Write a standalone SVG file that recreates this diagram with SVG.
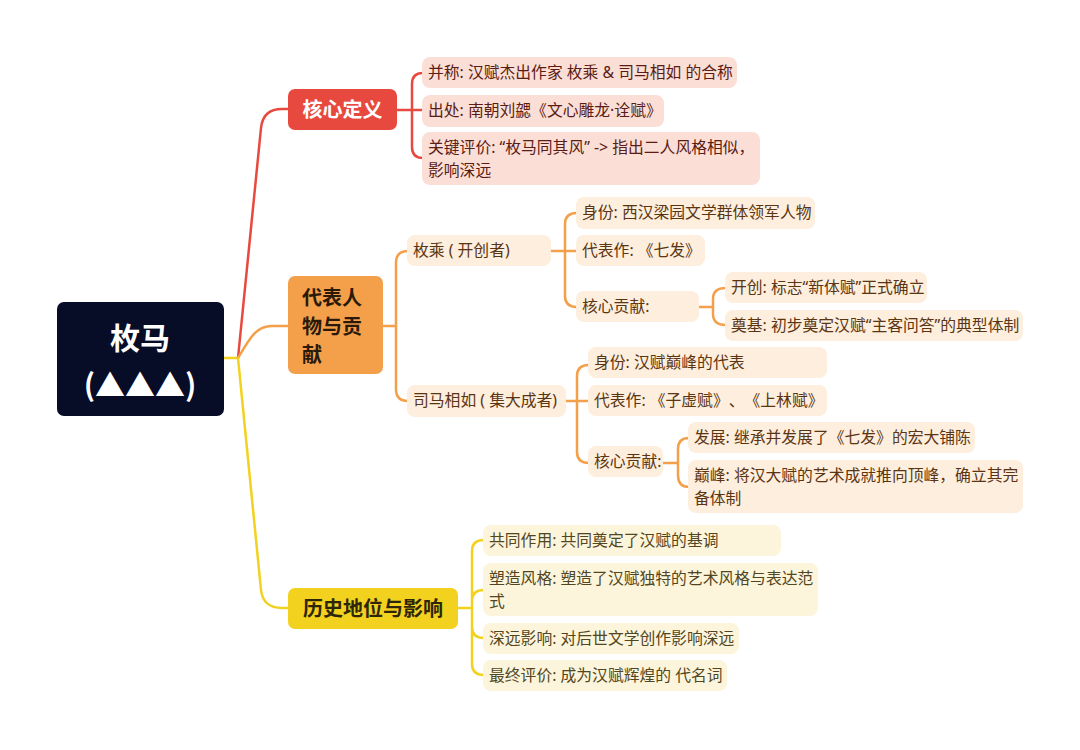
<svg xmlns="http://www.w3.org/2000/svg" width="1080" height="750" viewBox="0 0 1080 750">
<style>
text{font-family:"Noto Sans","Noto Sans CJK SC",sans-serif;font-kerning:none;text-spacing-trim:space-all;}
.c{fill:none;stroke-width:2.5;stroke-linecap:round;stroke-linejoin:round;}
.cr{stroke:#e8493f;} .co{stroke:#f4a04b;} .cy{stroke:#f2d11f;}
.tm{font-size:20px;font-weight:bold;font-family:"Noto Sans CJK SC",sans-serif;}
.t{font-size:15.8px;}
.rb{fill:#fbdfd6;} .ob{fill:#fdeedd;} .yb{fill:#fcf5db;}
.rt{fill:#5a1c14;} .ot{fill:#5b3512;} .yt{fill:#524622;}
</style>
<rect width="1080" height="750" fill="#ffffff"/>
<g id="connectors">
<path class="c cy" d="M224,358 L238,358"/>
<path class="c cr" d="M238,358 L261,128 Q263,109 282,109 L288,109"/>
<path class="c co" d="M238,358 C250,338 256,326 272,326 L288,326"/>
<path class="c cy" d="M238,358 L261,590 Q263,608 282,608 L288,608"/>
<path class="c cr" d="M397,110 L412,110 M412,110 L412,84 Q412,73 423,73 M412,110 L423,110 M412,110 L412,147 Q412,158 423,158"/>
<path class="c co" d="M383,326 L396,326 M396,326 L396,263 Q396,251 408,251 M396,326 L396,389 Q396,401 408,401"/>
<path class="c co" d="M551,251 L565,251 M565,251 L565,224 Q565,213 577,213 M565,251 L577,251 M565,251 L565,296 Q565,307 577,307"/>
<path class="c co" d="M699,307 L713,307 M713,307 L713,299 Q713,288 726,288 M713,307 L713,314 Q713,325 726,325"/>
<path class="c co" d="M566,401 L577,401 M577,401 L577,376 Q577,365 589,365 M577,401 L589,401 M577,401 L577,452 Q577,463 589,463"/>
<path class="c co" d="M663,463 L678,463 M678,463 L678,449 Q678,438 689,438 M678,463 L678,475 Q678,487 689,487"/>
<path class="c cy" d="M457,608 L472,608 M472,608 L472,551 Q472,540 484,540 M472,608 L472,601 Q472,590 484,590 M472,608 L472,627 Q472,638 484,638 M472,608 L472,664 Q472,675 484,675"/>
</g>
<g id="root">
<rect x="57" y="302" width="167" height="114" rx="7" fill="#070c27"/>
<text x="140" y="349" text-anchor="middle" font-size="30" font-weight="bold" fill="#ffffff" style="font-family:'Noto Sans CJK SC',sans-serif">枚马</text>
<text x="140" y="396" text-anchor="middle" font-size="30" font-weight="bold" fill="#ffffff" style="font-family:'Noto Sans CJK SC',sans-serif">(▲▲▲)</text>
</g>
<g id="topic-core">
<rect x="288" y="89" width="109" height="41" rx="7" fill="#e8493f"/>
<text x="342.500" y="117" text-anchor="middle" class="tm" fill="#ffffff">核心定义</text>
</g>
<g id="topic-people">
<rect x="288" y="276" width="95" height="98" rx="7" fill="#f4a04b"/>
<text class="tm" fill="#2b1a0a"><tspan x="302" y="305">代表人</tspan><tspan x="302" y="334">物与贡</tspan><tspan x="302" y="362">献</tspan></text>
</g>
<g id="topic-history">
<rect x="288" y="588" width="170" height="41" rx="7" fill="#f2d11f"/>
<text x="373" y="616" text-anchor="middle" class="tm" fill="#2e2608">历史地位与影响</text>
</g>
<g id="r1"><rect class="rb" x="422" y="57" width="315" height="31" rx="8"/><text class="t rt" x="428" y="78">并称: 汉赋杰出作家 枚乘 &amp; 司马相如 的合称</text></g>
<g id="r2"><rect class="rb" x="422" y="95" width="242" height="32" rx="8"/><text class="t rt" x="428" y="116">出处: 南朝刘勰《文心雕龙·诠赋》</text></g>
<g id="r3"><rect class="rb" x="422" y="132" width="338" height="53" rx="8"/><text class="t rt"><tspan x="428" y="153">关键评价: “枚马同其风” -&gt; 指出二人风格相似，</tspan><tspan x="428" y="176">影响深远</tspan></text></g>
<g id="meicheng"><rect class="ob" x="407" y="235" width="144" height="31" rx="8"/><text class="t ot" x="413" y="256">枚乘 ( 开创者)</text></g>
<g id="sima"><rect class="ob" x="407" y="385" width="159" height="32" rx="8"/><text class="t ot" x="413" y="406">司马相如 ( 集大成者)</text></g>
<g id="m1"><rect class="ob" x="576" y="197" width="239" height="32" rx="8"/><text class="t ot" x="582" y="218">身份: 西汉梁园文学群体领军人物</text></g>
<g id="m2"><rect class="ob" x="576" y="235" width="129" height="31" rx="8"/><text class="t ot" x="582" y="256">代表作: 《七发》</text></g>
<g id="m3"><rect class="ob" x="576" y="291" width="123" height="31" rx="8"/><text class="t ot" x="582" y="312">核心贡献:</text></g>
<g id="m3a"><rect class="ob" x="725" y="272" width="202" height="31" rx="8"/><text class="t ot" x="731" y="293">开创: 标志“新体赋”正式确立</text></g>
<g id="m3b"><rect class="ob" x="725" y="310" width="298" height="31" rx="8"/><text class="t ot" x="731" y="331">奠基: 初步奠定汉赋“主客问答”的典型体制</text></g>
<g id="s1"><rect class="ob" x="588" y="347" width="239" height="31" rx="8"/><text class="t ot" x="594" y="368">身份: 汉赋巅峰的代表</text></g>
<g id="s2"><rect class="ob" x="588" y="385" width="239" height="31" rx="8"/><text class="t ot" x="594" y="406">代表作: 《子虚赋》、《上林赋》</text></g>
<g id="s3"><rect class="ob" x="588" y="446" width="75" height="31" rx="8"/><text class="t ot" x="594" y="467">核心贡献:</text></g>
<g id="s3a"><rect class="ob" x="688" y="422" width="287" height="31" rx="8"/><text class="t ot" x="694" y="443">发展: 继承并发展了《七发》的宏大铺陈</text></g>
<g id="s3b"><rect class="ob" x="688" y="460" width="335" height="53" rx="8"/><text class="t ot"><tspan x="694" y="481">巅峰: 将汉大赋的艺术成就推向顶峰，确立其完</tspan><tspan x="694" y="504">备体制</tspan></text></g>
<g id="y1"><rect class="yb" x="483" y="525" width="298" height="31" rx="8"/><text class="t yt" x="489" y="546">共同作用: 共同奠定了汉赋的基调</text></g>
<g id="y2"><rect class="yb" x="483" y="563" width="335" height="53" rx="8"/><text class="t yt"><tspan x="489" y="584">塑造风格: 塑造了汉赋独特的艺术风格与表达范</tspan><tspan x="489" y="607">式</tspan></text></g>
<g id="y3"><rect class="yb" x="483" y="623" width="256" height="31" rx="8"/><text class="t yt" x="489" y="644">深远影响: 对后世文学创作影响深远</text></g>
<g id="y4"><rect class="yb" x="483" y="660" width="244" height="31" rx="8"/><text class="t yt" x="489" y="681">最终评价: 成为汉赋辉煌的 代名词</text></g>
</svg>
